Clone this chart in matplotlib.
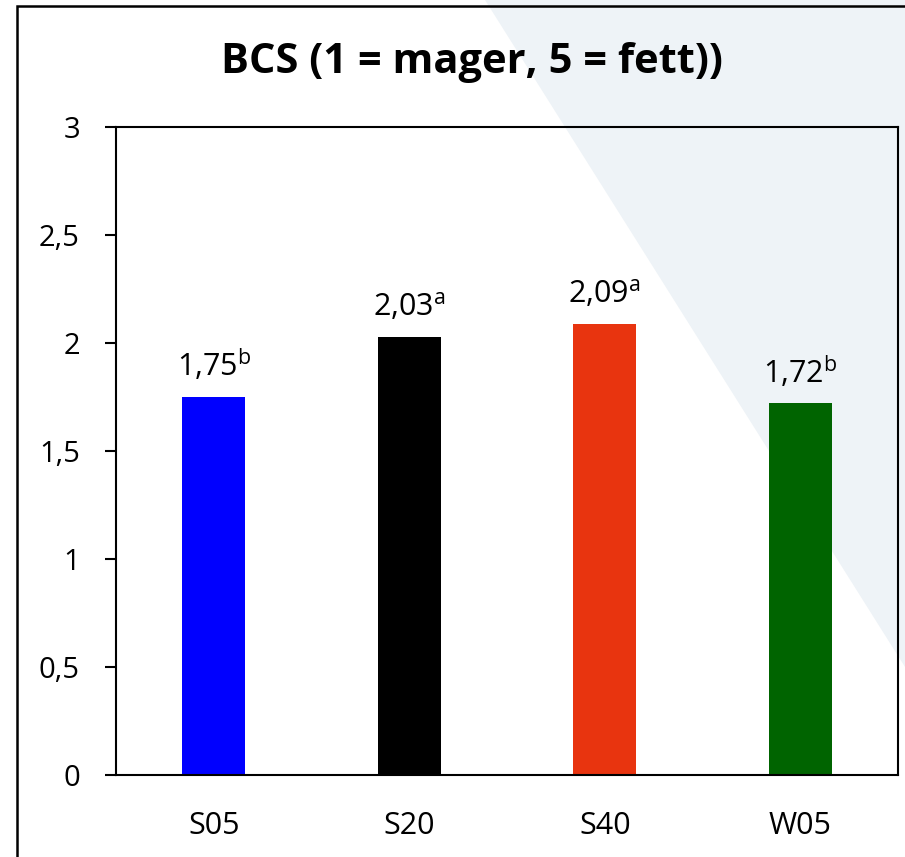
import matplotlib
matplotlib.use("Agg")
import matplotlib.pyplot as plt
from matplotlib.patches import Polygon, Rectangle
from matplotlib.ticker import FuncFormatter, MultipleLocator

plt.rcParams['font.family'] = ['Open Sans', 'DejaVu Sans']
plt.rcParams['mathtext.fontset'] = 'custom'
plt.rcParams['mathtext.rm'] = 'Open Sans'
plt.rcParams['mathtext.it'] = 'Open Sans'

categories = ["S05", "S20", "S40", "W05"]
values = [1.75, 2.03, 2.09, 1.72]
letters = ["b", "a", "a", "b"]
colors = ["#0000FF", "#000000", "#E8340F", "#006400"]
title = "BCS (1 = mager, 5 = fett))"

W, H = 905, 857
fig = plt.figure(figsize=(W / 100, H / 100), dpi=100)
fig.patch.set_facecolor("white")

# light diagonal background shape in the upper right
tri = Polygon([(485 / W, 1.0), (1.0, 1.0), (1.0, 1 - 667 / H)], closed=True,
              transform=fig.transFigure, facecolor="#EEF3F7", edgecolor="none", zorder=-2)
fig.patches.append(tri)

# outer frame
frame = Rectangle((17 / W, -0.1), 1.2, 1 - 6 / H + 0.1, transform=fig.transFigure,
                  facecolor="none", edgecolor="black", linewidth=1.8, zorder=-1)
fig.patches.append(frame)

ax = fig.add_axes([116 / W, 1 - 775 / H, (898 - 116) / W, (775 - 127) / H])
ax.patch.set_alpha(0)

x = range(len(categories))
ax.bar(x, values, width=0.32, color=colors, zorder=2)

for i, (v, l) in enumerate(zip(values, letters)):
    lab = f"{v:.2f}".replace(".", ",") + r"$^{\mathrm{" + l + "}}$"
    ax.annotate(lab, (i, v), xytext=(0, 15), textcoords="offset points",
                ha="center", va="baseline", fontsize=22)

ax.set_xlim(-0.5, 3.5)
ax.set_ylim(0, 3)
ax.yaxis.set_major_locator(MultipleLocator(0.5))
ax.yaxis.set_major_formatter(FuncFormatter(
    lambda v, p: (f"{v:g}").replace(".", ",")))
ax.set_xticks(list(x))
ax.set_xticklabels(categories)
ax.tick_params(axis="x", length=0, pad=26, labelsize=22)
ax.tick_params(axis="y", length=8, width=1.5, pad=18, labelsize=21, direction="out")

for s in ax.spines.values():
    s.set_linewidth(1.5)
    s.set_color("black")

fig.text(472 / W, 1 - 73 / H, title, ha="center", va="baseline",
         fontsize=30, fontweight="bold")

fig.savefig("out.png", dpi=100)
